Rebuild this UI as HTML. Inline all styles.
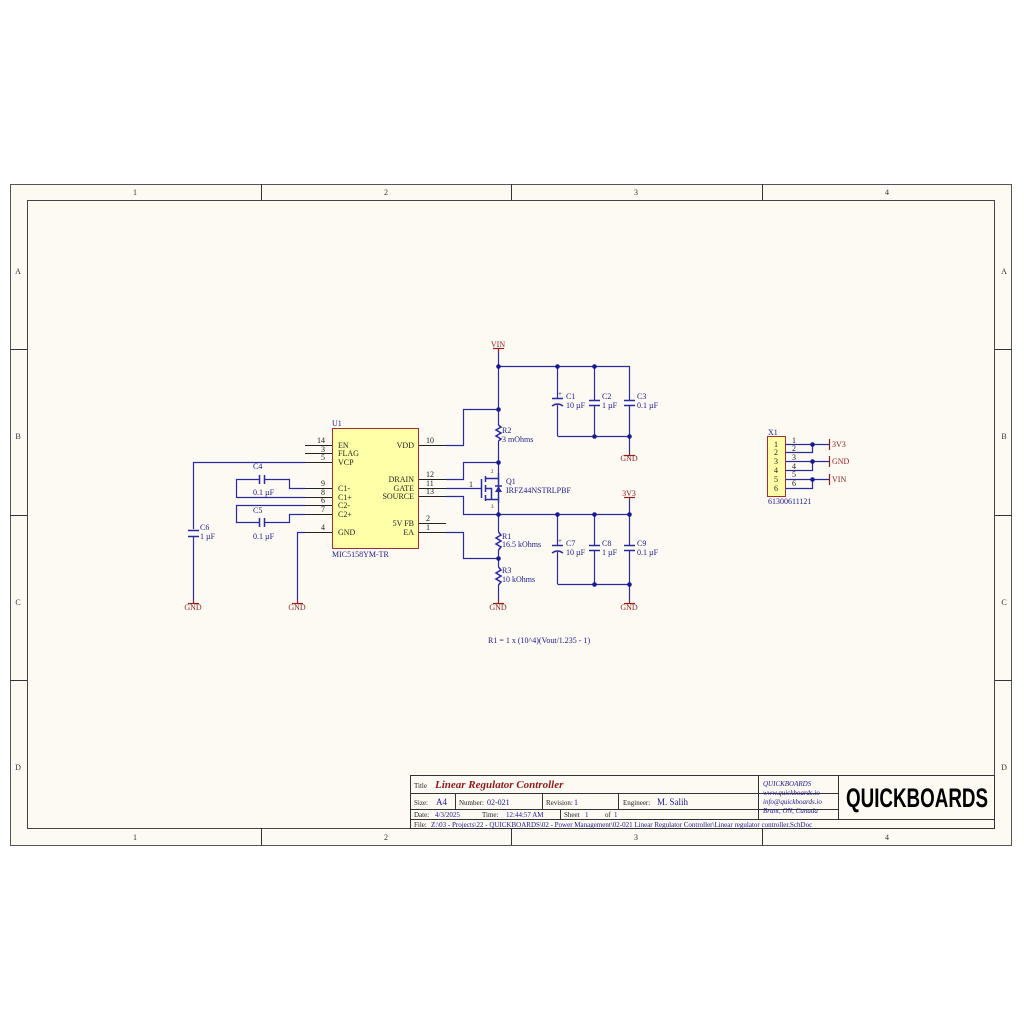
<!DOCTYPE html>
<html><head><meta charset="utf-8"><style>
html,body{margin:0;padding:0;background:#fff;width:1024px;height:1024px;overflow:hidden}
svg{display:block}
text{font-family:"Liberation Serif",serif}
</style></head><body>
<svg width="1024" height="1024" viewBox="0 0 1024 1024" xmlns="http://www.w3.org/2000/svg">
<rect x="10.5" y="184.5" width="1001" height="661" fill="#fdfaf3" stroke="#555" stroke-width="1"/>
<rect x="27.5" y="200.5" width="967" height="628" fill="#fdfaf3" stroke="#444" stroke-width="1"/>
<g stroke="#333" stroke-width="1">
<line x1="261.5" y1="184" x2="261.5" y2="200"/><line x1="511.5" y1="184" x2="511.5" y2="200"/><line x1="762.5" y1="184" x2="762.5" y2="200"/>
<line x1="261.5" y1="828" x2="261.5" y2="845"/><line x1="511.5" y1="828" x2="511.5" y2="845"/><line x1="762.5" y1="828" x2="762.5" y2="845"/>
<line x1="10" y1="349.5" x2="27" y2="349.5"/><line x1="10" y1="515.5" x2="27" y2="515.5"/><line x1="10" y1="680.5" x2="27" y2="680.5"/>
<line x1="995" y1="349.5" x2="1012" y2="349.5"/><line x1="995" y1="515.5" x2="1012" y2="515.5"/><line x1="995" y1="680.5" x2="1012" y2="680.5"/>
</g>
<g font-size="8" fill="#333" text-anchor="middle">
<text x="135" y="195">1</text><text x="386" y="195">2</text><text x="636" y="195">3</text><text x="887" y="195">4</text>
<text x="135" y="840">1</text><text x="386" y="840">2</text><text x="636" y="840">3</text><text x="887" y="840">4</text>
<text x="18" y="274">A</text><text x="18" y="439">B</text><text x="18" y="605">C</text><text x="18" y="770">D</text>
<text x="1004" y="274">A</text><text x="1004" y="439">B</text><text x="1004" y="605">C</text><text x="1004" y="770">D</text>
</g>

<rect x="332.5" y="428.5" width="86" height="120" fill="#ffffa8" stroke="#a03030" stroke-width="1"/>
<g stroke="#222" stroke-width="1">
<line x1="305" y1="445.5" x2="332" y2="445.5"/><line x1="305" y1="453.5" x2="332" y2="453.5"/><line x1="305" y1="462.5" x2="332" y2="462.5"/>
<line x1="305" y1="488.5" x2="332" y2="488.5"/><line x1="305" y1="497.5" x2="332" y2="497.5"/><line x1="305" y1="505.5" x2="332" y2="505.5"/><line x1="305" y1="514.5" x2="332" y2="514.5"/><line x1="305" y1="532.5" x2="332" y2="532.5"/>
<line x1="419" y1="445.5" x2="446" y2="445.5"/><line x1="419" y1="479.5" x2="446" y2="479.5"/><line x1="419" y1="488.5" x2="446" y2="488.5"/><line x1="419" y1="496.5" x2="446" y2="496.5"/><line x1="419" y1="523.5" x2="446" y2="523.5"/><line x1="419" y1="532.5" x2="446" y2="532.5"/>
</g>
<g font-size="8" fill="#222">
<text x="332" y="426" fill="#1a1a8a">U1</text>
<text x="338" y="448">EN</text><text x="338" y="456">FLAG</text><text x="338" y="465">VCP</text>
<text x="338" y="491">C1-</text><text x="338" y="500">C1+</text><text x="338" y="508">C2-</text><text x="338" y="517">C2+</text><text x="338" y="535">GND</text>
<g text-anchor="end"><text x="414" y="448">VDD</text><text x="414" y="482">DRAIN</text><text x="414" y="491">GATE</text><text x="414" y="499">SOURCE</text><text x="414" y="526">5V FB</text><text x="414" y="535">EA</text>
<text x="325" y="443">14</text><text x="325" y="452">3</text><text x="325" y="460">5</text><text x="325" y="486">9</text><text x="325" y="495">8</text><text x="325" y="503">6</text><text x="325" y="512">7</text><text x="325" y="530">4</text></g>
<text x="426" y="443">10</text><text x="426" y="477">12</text><text x="426" y="486">11</text><text x="426" y="494">13</text><text x="426" y="521">2</text><text x="426" y="530">1</text>
<text x="332" y="557" fill="#1a1a8a">MIC5158YM-TR</text>
</g>

<g stroke="#2a2aa0" stroke-width="1.2" fill="none">
<polyline points="305,462.5 193.5,462.5 193.5,529"/><line x1="193.5" y1="537" x2="193.5" y2="600"/>
<polyline points="305,488.5 289.5,488.5 289.5,479.5 264,479.5"/><polyline points="259,479.5 236.5,479.5 236.5,497.5 305,497.5"/>
<polyline points="305,505.5 236.5,505.5 236.5,522.5 259,522.5"/><polyline points="264,522.5 289.5,522.5 289.5,514.5 305,514.5"/>
<polyline points="305,532.5 297.5,532.5 297.5,600"/>
<polyline points="446,445.5 463.5,445.5 463.5,409.5 498.5,409.5"/>
<line x1="498.5" y1="352" x2="498.5" y2="425"/>
<line x1="498.5" y1="441" x2="498.5" y2="473"/>
<polyline points="446,479.5 463.5,479.5 463.5,462.5 498.5,462.5"/>
<polyline points="446,496.5 463.5,496.5 463.5,514.5 629.5,514.5"/>
<line x1="446" y1="488.5" x2="481" y2="488.5"/>
<line x1="498.5" y1="503" x2="498.5" y2="532"/>
<line x1="498.5" y1="550" x2="498.5" y2="567"/>
<line x1="498.5" y1="585" x2="498.5" y2="600"/>
<polyline points="446,532.5 463.5,532.5 463.5,558.5 498.5,558.5"/>
<line x1="498.5" y1="366.5" x2="629.5" y2="366.5"/>
<line x1="557.5" y1="366" x2="557.5" y2="398"/><line x1="557.5" y1="405" x2="557.5" y2="436"/>
<line x1="594.5" y1="366" x2="594.5" y2="400"/><line x1="594.5" y1="405" x2="594.5" y2="436"/>
<line x1="629.5" y1="366" x2="629.5" y2="400"/><line x1="629.5" y1="405" x2="629.5" y2="452"/>
<line x1="557.5" y1="436.5" x2="629.5" y2="436.5"/>
<line x1="629.5" y1="500" x2="629.5" y2="545"/><line x1="629.5" y1="550" x2="629.5" y2="600"/>
<line x1="557.5" y1="514" x2="557.5" y2="545"/><line x1="557.5" y1="552" x2="557.5" y2="584"/>
<line x1="594.5" y1="514" x2="594.5" y2="545"/><line x1="594.5" y1="550" x2="594.5" y2="584"/>
<line x1="557.5" y1="584.5" x2="629.5" y2="584.5"/>
<line x1="785" y1="444.5" x2="829" y2="444.5"/><polyline points="785,452.5 812.5,452.5 812.5,444.5"/>
<line x1="785" y1="461.5" x2="829" y2="461.5"/><polyline points="785,470.5 812.5,470.5 812.5,461.5"/>
<line x1="785" y1="479.5" x2="829" y2="479.5"/><polyline points="785,488.5 812.5,488.5 812.5,479.5"/>
</g>
<g stroke="#2a2aa0" stroke-width="1.5" fill="none">
<line x1="259.5" y1="475" x2="259.5" y2="484"/><line x1="264.5" y1="475" x2="264.5" y2="484"/>
<line x1="259.5" y1="518" x2="259.5" y2="527"/><line x1="264.5" y1="518" x2="264.5" y2="527"/>
<line x1="188" y1="530.5" x2="199" y2="530.5"/><line x1="188" y1="536.5" x2="199" y2="536.5"/>
<line x1="589" y1="400.5" x2="600" y2="400.5"/><line x1="589" y1="405.5" x2="600" y2="405.5"/>
<line x1="624" y1="400.5" x2="635" y2="400.5"/><line x1="624" y1="405.5" x2="635" y2="405.5"/>
<line x1="589" y1="545.5" x2="600" y2="545.5"/><line x1="589" y1="550.5" x2="600" y2="550.5"/>
<line x1="624" y1="545.5" x2="635" y2="545.5"/><line x1="624" y1="550.5" x2="635" y2="550.5"/>
<line x1="552" y1="398.5" x2="563" y2="398.5"/><path d="M552,406 Q557.5,402 563,406"/>
<line x1="552" y1="545.5" x2="563" y2="545.5"/><path d="M552,553 Q557.5,549 563,553"/>
<polyline points="498.5,425 501,427 496,430 501,433 496,436 501,439 498.5,441"/>
<polyline points="498.5,532 501,535 496,538 501,541 496,544 501,547 498.5,550"/>
<polyline points="498.5,567 501,570 496,573 501,576 496,579 501,582 498.5,585"/>
<line x1="481.5" y1="479" x2="481.5" y2="498"/>
<line x1="485.5" y1="476" x2="485.5" y2="482"/><line x1="485.5" y1="485" x2="485.5" y2="492"/><line x1="485.5" y1="495" x2="485.5" y2="501"/>
<polyline points="485,478.5 498.5,478.5 498.5,473"/><polyline points="485,499.5 498.5,499.5 498.5,503"/>
<polyline points="485,488.5 491.5,488.5 491.5,499"/>
<line x1="498.5" y1="479" x2="498.5" y2="499"/>
<line x1="495" y1="486" x2="502" y2="486"/>
</g>
<path d="M495,492 L502,492 L498.5,486 Z" fill="#2a2aa0"/>
<g fill="#1a1a8a">
<circle cx="498.5" cy="366.5" r="2.3"/><circle cx="557.5" cy="366.5" r="2.3"/><circle cx="594.5" cy="366.5" r="2.3"/>
<circle cx="498.5" cy="409.5" r="2.3"/><circle cx="594.5" cy="436.5" r="2.3"/><circle cx="629.5" cy="436.5" r="2.3"/>
<circle cx="498.5" cy="462.5" r="2.3"/><circle cx="498.5" cy="514.5" r="2.3"/><circle cx="557.5" cy="514.5" r="2.3"/><circle cx="594.5" cy="514.5" r="2.3"/><circle cx="629.5" cy="514.5" r="2.3"/>
<circle cx="498.5" cy="558.5" r="2.3"/><circle cx="594.5" cy="584.5" r="2.3"/><circle cx="629.5" cy="584.5" r="2.3"/>
<circle cx="812.5" cy="461.5" r="2.3"/><circle cx="812.5" cy="444.5" r="2.3"/><circle cx="812.5" cy="479.5" r="2.3"/>
</g>
<g stroke="#8b2020" stroke-width="1.2">
<line x1="498.5" y1="348" x2="498.5" y2="352"/><line x1="493" y1="348.5" x2="504" y2="348.5"/>
<line x1="629.5" y1="497" x2="629.5" y2="500"/><line x1="624" y1="497.5" x2="635" y2="497.5"/>
<line x1="629.5" y1="452" x2="629.5" y2="456"/><line x1="624" y1="455.5" x2="635" y2="455.5"/>
<line x1="193.5" y1="600" x2="193.5" y2="604"/><line x1="188" y1="603.5" x2="199" y2="603.5"/>
<line x1="297.5" y1="600" x2="297.5" y2="604"/><line x1="292" y1="603.5" x2="303" y2="603.5"/>
<line x1="498.5" y1="600" x2="498.5" y2="604"/><line x1="493" y1="603.5" x2="504" y2="603.5"/>
<line x1="629.5" y1="600" x2="629.5" y2="604"/><line x1="624" y1="603.5" x2="635" y2="603.5"/>
<line x1="829.5" y1="439" x2="829.5" y2="450"/><line x1="829.5" y1="456" x2="829.5" y2="467"/><line x1="829.5" y1="474" x2="829.5" y2="485"/>
</g>
<g font-size="8" fill="#8b2020" text-anchor="middle">
<text x="498" y="347">VIN</text><text x="629" y="496">3V3</text>
<text x="629" y="461">GND</text><text x="193" y="610">GND</text><text x="297" y="610">GND</text><text x="498" y="610">GND</text><text x="629" y="610">GND</text>
<g text-anchor="start"><text x="832" y="447">3V3</text><text x="832" y="464">GND</text><text x="832" y="482">VIN</text></g>
</g>
<g font-size="8" fill="#1a1a8a">
<text x="253" y="469">C4</text><text x="253" y="495">0.1 µF</text>
<text x="253" y="513">C5</text><text x="253" y="539">0.1 µF</text>
<text x="200" y="530">C6</text><text x="200" y="539">1 µF</text>
<text x="566" y="399">C1</text><text x="566" y="408">10 µF</text>
<text x="602" y="399">C2</text><text x="602" y="408">1 µF</text>
<text x="637" y="399">C3</text><text x="637" y="408">0.1 µF</text>
<text x="566" y="546">C7</text><text x="566" y="555">10 µF</text>
<text x="602" y="546">C8</text><text x="602" y="555">1 µF</text>
<text x="637" y="546">C9</text><text x="637" y="555">0.1 µF</text>
<text x="558" y="396" font-size="7">+</text><text x="558" y="543" font-size="7">+</text>
<text x="502" y="433">R2</text><text x="502" y="442">3 mOhms</text>
<text x="502" y="539">R1</text><text x="502" y="547">16.5 kOhms</text>
<text x="502" y="573">R3</text><text x="502" y="582">10 kOhms</text>
<text x="506" y="484">Q1</text><text x="506" y="493">IRFZ44NSTRLPBF</text>
<text x="488" y="643">R1 = 1 x (10^4)(Vout/1.235  - 1)</text>
<text x="768" y="435">X1</text><text x="768" y="504">61300611121</text>
</g>
<text x="469" y="487" font-size="8" fill="#222">1</text>
<text x="491" y="473" font-size="5" fill="#222">2</text><text x="491" y="508" font-size="5" fill="#222">3</text>
<rect x="767.5" y="436.5" width="18" height="60" fill="#ffffa8" stroke="#a03030"/>
<g font-size="8" fill="#222">
<text x="774" y="447">1</text><text x="774" y="455">2</text><text x="774" y="464">3</text><text x="774" y="473">4</text><text x="774" y="482">5</text><text x="774" y="491">6</text>
<text x="792" y="443">1</text><text x="792" y="451">2</text><text x="792" y="460">3</text><text x="792" y="469">4</text><text x="792" y="477">5</text><text x="792" y="486">6</text>
</g>
<g stroke="#333" stroke-width="1" fill="none">
<rect x="410.5" y="775.5" width="584" height="53"/>
<line x1="410" y1="793.5" x2="838" y2="793.5"/><line x1="410" y1="809.5" x2="838" y2="809.5"/><line x1="410" y1="819.5" x2="995" y2="819.5"/>
<line x1="758.5" y1="775" x2="758.5" y2="819"/><line x1="838.5" y1="775" x2="838.5" y2="819"/>
<line x1="455.5" y1="793" x2="455.5" y2="809"/><line x1="542.5" y1="793" x2="542.5" y2="809"/><line x1="618.5" y1="793" x2="618.5" y2="809"/>
<line x1="560.5" y1="809" x2="560.5" y2="819"/>
</g>
<g font-size="7" fill="#222">
<text x="414" y="788">Title</text>
<text x="414" y="805">Size:</text><text x="459" y="805">Number:</text><text x="546" y="805">Revision:</text><text x="623" y="805">Engineer:</text>
<text x="414" y="817">Date:</text><text x="482" y="817">Time:</text><text x="564" y="817">Sheet</text><text x="605" y="817">of</text>
<text x="414" y="827">File:</text>
</g>
<g fill="#1a1a8a" font-size="8">
<text x="436" y="805" font-size="9">A4</text><text x="487" y="805">02-021</text><text x="574" y="805">1</text><text x="657" y="805" font-size="9">M. Salih</text>
<text x="435" y="817" font-size="7">4/3/2025</text><text x="506" y="817" font-size="7">12:44:57 AM</text><text x="585" y="817" font-size="7">1</text><text x="614" y="817" font-size="7">1</text>
<text x="431" y="827" font-size="7">Z:\03 - Projects\22 - QUICKBOARDS\02 - Power Management\02-021 Linear Regulator Controller\Linear regulator controller.SchDoc</text>
<g font-style="italic" font-size="7"><text x="763" y="786">QUICKBOARDS</text><text x="763" y="795">www.quickboards.io</text><text x="763" y="804">info@quickboards.io</text><text x="763" y="813">Brant, ON, Canada</text></g>
</g>
<text x="435" y="788" font-size="11" font-weight="bold" font-style="italic" fill="#8b1a1a">Linear Regulator Controller</text>
<text x="917" y="807" fill="#000" text-anchor="middle" textLength="142" lengthAdjust="spacingAndGlyphs" style="font-family:'Liberation Sans Narrow','Liberation Sans',sans-serif;font-weight:bold;font-size:27px">QUICKBOARDS</text>
</svg>
</body></html>
